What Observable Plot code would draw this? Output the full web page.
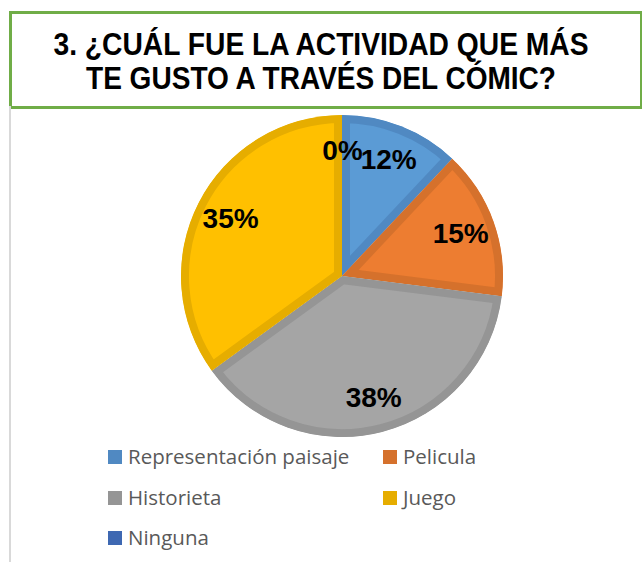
<!DOCTYPE html>
<html>
<head>
<meta charset="utf-8">
<script src="https://cdn.jsdelivr.net/npm/d3@7"></script>
<script src="https://cdn.jsdelivr.net/npm/@observablehq/plot@0.6"></script>
<style>
  html, body { margin: 0; padding: 0; background: #fff; }
  #wrap { position: relative; width: 642px; height: 562px; overflow: hidden; }
  #titlebox { position: absolute; left: 9px; top: 11px; width: 628px; height: 92px; border: 3px solid #70AD47; box-sizing: content-box; }
  #vline { position: absolute; left: 9px; top: 106px; width: 2px; height: 456px; background: #D9D9D9; }
  #title { position: absolute; left: 0; top: 0; }
  #chart { position: absolute; left: 0; top: 106px; }
  .leg { position: absolute; font-family: "Open Sans", "Liberation Sans", sans-serif; font-size: 20.5px; color: #595959; white-space: nowrap; line-height: 1; }
  .sw { position: absolute; width: 14px; height: 14px; }
</style>
</head>
<body>
<div id="wrap">
  <div id="titlebox"></div>
  <div id="vline"></div>
  <svg id="title" width="642" height="110"></svg>
  <div id="chart"></div>
  <div id="legend"></div>
</div>
<script>
const titleLines = ["3. ¿CUÁL FUE LA ACTIVIDAD QUE MÁS", "TE GUSTO A TRAVÉS DEL CÓMIC?"];
const categories = ["Representación paisaje", "Pelicula", "Historieta", "Juego", "Ninguna"];
const values = [12, 15, 38, 35, 0];
const labels = ["12%", "15%", "38%", "35%", "0%"];
const fills = ["#5B9BD5", "#ED7D31", "#A5A5A5", "#FFC000", "#4472C4"];
const borders = ["#5089C2", "#D5712C", "#959595", "#E6AD00", "#3E68B2"];

// Title
const tsvg = d3.select("#title");
const tWidths = [535, 470];
const tBase = [55, 88.5];
titleLines.forEach((t, i) => {
  tsvg.append("text")
    .attr("x", 321).attr("y", tBase[i])
    .attr("text-anchor", "middle")
    .attr("font-family", "Liberation Sans, Arial, sans-serif")
    .attr("font-weight", "bold")
    .attr("font-size", 31)
    .attr("textLength", tWidths[i])
    .attr("lengthAdjust", "spacingAndGlyphs")
    .attr("fill", "#000")
    .text(t);
});

const data = categories.map((c, i) => ({category: c, value: values[i], label: labels[i], fill: fills[i], border: borders[i]}));
const arcs = d3.pie().sort(null).value(d => d.value)(data);
const labelR = 0.78;
const labelData = arcs.map(a => {
  const mid = (a.startAngle + a.endAngle) / 2;
  return {label: a.data.label, x: labelR * Math.sin(mid), y: labelR * Math.cos(mid)};
});

const W = 642, H = 340, R = 161, CX = 342, CY = 170;

function pieMark(index, scales) {
  const cx = scales.x(0), cy = scales.y(0);
  const r = scales.x(1) - scales.x(0);
  const g = d3.create("svg:g").attr("transform", `translate(${cx},${cy})`);
  const arc = d3.arc().innerRadius(0).outerRadius(r);
  arcs.forEach((a, i) => {
    if (a.endAngle - a.startAngle <= 0) return;
    const id = "pieclip" + i;
    const d = arc(a);
    g.append("clipPath").attr("id", id).append("path").attr("d", d);
    g.append("path")
      .attr("d", d)
      .attr("fill", a.data.fill)
      .attr("stroke", a.data.border)
      .attr("stroke-width", 16)
      .attr("stroke-linejoin", "miter")
      .attr("clip-path", `url(#${id})`);
  });
  return g.node();
}

const chart = Plot.plot({
  width: W,
  height: H,
  marginLeft: CX - R,
  marginRight: W - CX - R,
  marginTop: CY - R,
  marginBottom: H - CY - R,
  x: {domain: [-1, 1], axis: null},
  y: {domain: [-1, 1], axis: null},
  style: {background: "transparent", overflow: "visible"},
  marks: [
    pieMark,
    Plot.text(labelData, {x: "x", y: "y", text: "label", fontSize: 28, fontWeight: "bold", fill: "#000",
      fontFamily: "Liberation Sans, Arial, sans-serif"})
  ]
});
document.getElementById("chart").appendChild(chart);

// Legend
const legend = document.getElementById("legend");
const colX = [108, 383];
const rowY = [457, 498, 538];
data.forEach((d, i) => {
  const col = i % 2, row = Math.floor(i / 2);
  const sw = document.createElement("div");
  sw.className = "sw";
  sw.style.left = colX[col] + "px";
  sw.style.top = (rowY[row] - 7) + "px";
  sw.style.background = d.border;
  legend.appendChild(sw);
  const tx = document.createElement("div");
  tx.className = "leg";
  tx.style.left = (colX[col] + 20) + "px";
  tx.style.top = (rowY[row] - 11) + "px";
  tx.textContent = d.category;
  legend.appendChild(tx);
});
</script>
</body>
</html>
